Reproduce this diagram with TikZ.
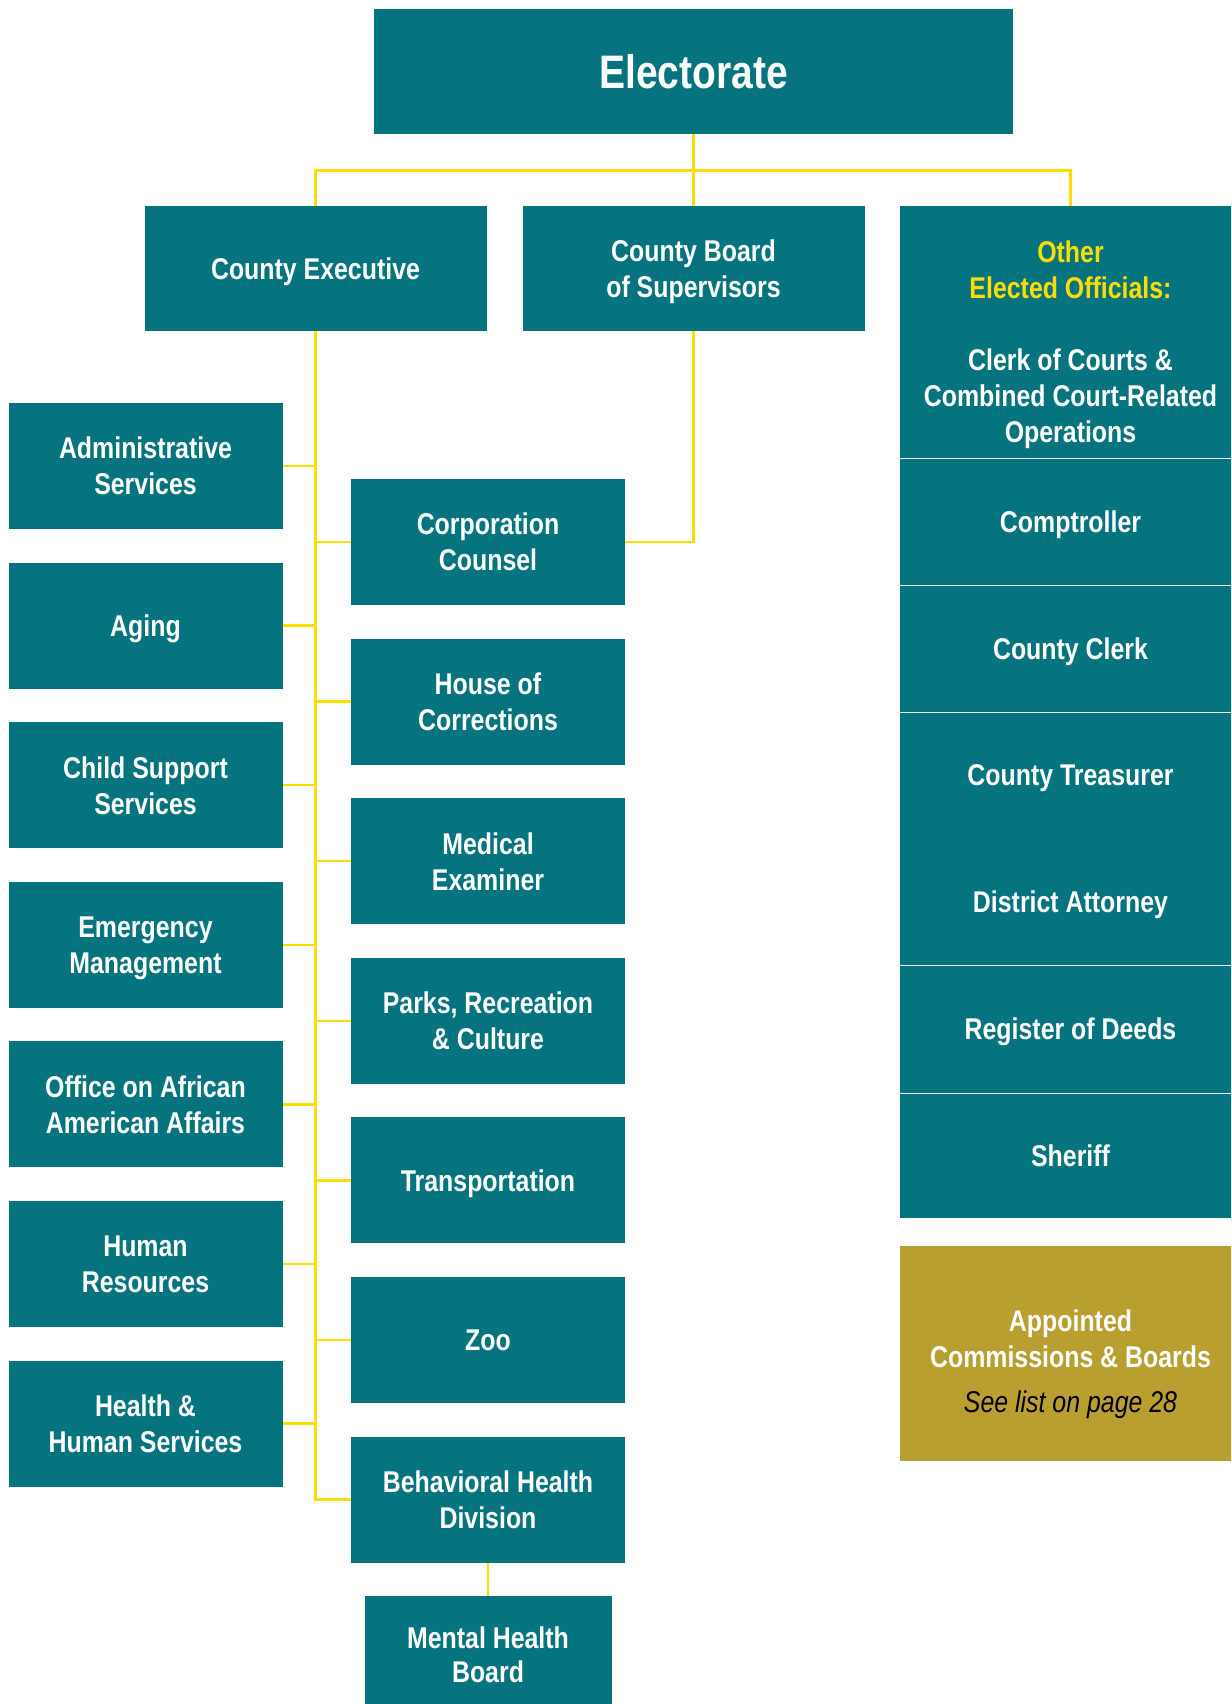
\documentclass[tikz,border=0pt]{standalone}
\usepackage{fontspec}
\usepackage{tikz}
\usetikzlibrary{positioning,calc}
\newfontfamily\chartfont{Liberation Sans}[FakeStretch=0.83]
\definecolor{mc_teal}{HTML}{06747E}
\definecolor{mc_yellow}{HTML}{FFDD00}
\definecolor{mc_gold}{HTML}{B99E30}
\tikzset{deptnode/.style={rectangle, text centered, align=center, fill=mc_teal, text=white, inner sep=0pt, outer sep=0pt,
    text depth=0pt, minimum width=274pt, minimum height=126pt, font=\chartfont\bfseries\fontsize{30}{36}\selectfont}}
\tikzset{topnode/.style={deptnode, minimum width=342pt, minimum height=125pt}}
\tikzset{electnode/.style={deptnode, draw=white, line width=1pt, minimum width=342pt, minimum height=127pt}}
\tikzset{link/.style={draw=mc_yellow, line width=2.5pt}}

\begin{document}
\begin{tikzpicture}[x=1pt, y=1pt, node distance=33.6pt]
  \useasboundingbox (0,0) rectangle (1231,-1704);
  \clip (0,0) rectangle (1231,-1704);

  \node[topnode, minimum width=639pt, font=\chartfont\bfseries\fontsize{47}{56}\selectfont] (electorate) at (693.5,-71.5) {Electorate};

  \node[topnode, below=72pt of electorate] (board) {County Board\\of Supervisors};
  \node[topnode, left=36pt of board] (exec) {County Executive};
  \node[electnode, right=35pt of board.north east, anchor=north west, minimum height=252pt, text height=221.5pt] (elected)
    {\textcolor{mc_yellow}{Other}\\\textcolor{mc_yellow}{Elected Officials:}\\[36pt]Clerk of Courts \&\\Combined Court-Related\\Operations};
  \node[electnode, below=0pt of elected] (comptroller) {Comptroller};
  \node[electnode, below=0pt of comptroller] (clerk) {County Clerk};
  \node[electnode, below=0pt of clerk, minimum height=253pt] (treasurer) {County Treasurer\\[91pt]District Attorney};
  \node[electnode, below=0pt of treasurer, minimum height=128pt] (deeds) {Register of Deeds};
  \node[electnode, below=0pt of deeds, minimum height=125pt] (sheriff) {Sheriff};
  \node[deptnode, fill=mc_gold, below=28pt of sheriff, minimum width=342pt, minimum height=215pt, text height=118pt] (appointed)
    {Appointed\\Commissions \& Boards\\[9pt]\textcolor{black}{\mdseries\itshape See list on page 28}};

  % departments under the executive
  \node[deptnode, below=72pt of exec, xshift=-170pt] (left-1) {Administrative\\Services};
  \node[deptnode, below=of left-1] (left-2) {Aging};
  \node[deptnode, below=of left-2] (left-3) {Child Support\\Services};
  \node[deptnode, below=of left-3] (left-4) {Emergency\\Management};
  \node[deptnode, below=of left-4] (left-5) {Office on African\\American Affairs};
  \node[deptnode, below=of left-5] (left-6) {Human\\Resources};
  \node[deptnode, below=of left-6] (left-7) {Health \&\\Human Services};

  \node[deptnode, right=68.5pt of left-1, yshift=-76pt] (mid-1) {Corporation\\Counsel};
  \node[deptnode, below=of mid-1] (mid-2) {House of\\Corrections};
  \node[deptnode, below=of mid-2] (mid-3) {Medical\\Examiner};
  \node[deptnode, below=of mid-3] (mid-4) {Parks, Recreation\\\& Culture};
  \node[deptnode, below=of mid-4] (mid-5) {Transportation};
  \node[deptnode, below=of mid-5] (mid-6) {Zoo};
  \node[deptnode, below=of mid-6] (mid-7) {Behavioral Health\\Division};
  \node[deptnode, below=33pt of mid-7, minimum width=247pt, minimum height=118pt,
    font=\chartfont\bfseries\fontsize{30}{33.5}\selectfont] (mental) {Mental Health\\Board};

  \coordinate (bus) at ($(electorate.south)+(0,-36.6)$);
  \draw[link] (electorate.south) -- (bus);
  \draw[link] (bus) -- (board.north);
  \draw[link] (exec.north) |- (bus) -| (elected.north);

  \draw[link] (exec.south) |- (mid-7.west);
  \foreach \i in {1,...,7}
    \draw[link] (left-\i.east) -- (left-\i.east -| exec.south);
  \foreach \i in {1,...,6}
    \draw[link] (mid-\i.west -| exec.south) -- (mid-\i.west);
  \draw[link] (board.south) |- (mid-1.east);
  \draw[link] (mid-7.south) -- (mid-7.south |- mental.north);
\end{tikzpicture}
\end{document}
